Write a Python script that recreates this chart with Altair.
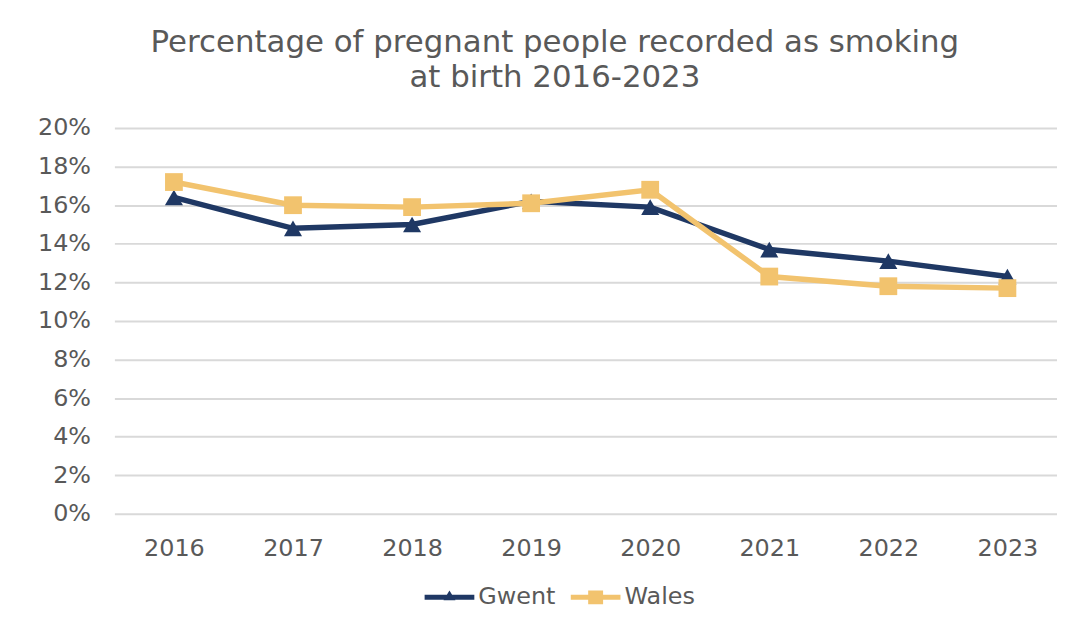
import altair as alt
import pandas as pd

years = ["2016", "2017", "2018", "2019", "2020", "2021", "2022", "2023"]
gwent = [16.4, 14.8, 15.0, 16.2, 15.9, 13.7, 13.1, 12.3]
wales = [17.2, 16.0, 15.9, 16.1, 16.8, 12.3, 11.8, 11.7]
series_names = ["Gwent", "Wales"]
y_ticks = [0, 2, 4, 6, 8, 10, 12, 14, 16, 18, 20]
title_lines = ["Percentage of pregnant people recorded as smoking", "at birth 2016-2023"]

colors = ["#1f3864", "#f2c36e"]
marker_shapes = ["triangle-up", "square"]
# legend symbols: a short line with the marker on it (unit coords, custom path)
legend_shapes = [
    "M-2.5,-0.25H2.5V0.25H-2.5Z M-0.6,0.3L0,-0.7L0.6,0.3Z",
    "M-2.5,-0.25H2.5V0.25H-2.5Z M-0.75,-0.7H0.75V0.7H-0.75Z",
]

FONT = "DejaVu Sans"
GREY = "#595959"

rows = []
for y, g, w in zip(years, gwent, wales):
    rows.append({"year": y, "series": "Gwent", "value": g})
    rows.append({"year": y, "series": "Wales", "value": w})
df = pd.DataFrame(rows)

W, H = 948, 388

x_enc = alt.X(
    "year:N",
    sort=years,
    scale=alt.Scale(type="point", padding=0.5, range=[0, 958]),
    axis=alt.Axis(
        title=None, labelAngle=0, domain=False, ticks=False, tickSize=0, grid=False,
        labelFontSize=24, labelColor=GREY, labelFont=FONT, labelPadding=23,
    ),
)
y_enc = alt.Y(
    "value:Q",
    scale=alt.Scale(domain=[0, 20], nice=False, zero=True),
    axis=alt.Axis(
        title=None, values=y_ticks, labelExpr="datum.value + '%'",
        domain=False, ticks=False, tickSize=0,
        grid=True, gridColor="#d9d9d9", gridWidth=2,
        labelFontSize=24, labelColor=GREY, labelFont=FONT, labelPadding=24,
    ),
)

layers = []
for name, col, shp, sz in zip(series_names, colors, marker_shapes, [330, 320]):
    sub = alt.Chart(df).transform_filter(alt.datum.series == name)
    layers.append(
        sub.mark_line(strokeWidth=5.5, color=col).encode(x=x_enc, y=y_enc)
    )
    layers.append(
        sub.mark_point(filled=True, opacity=1, size=sz, shape=shp, color=col).encode(x=x_enc, y=y_enc)
    )

legend = alt.Legend(
    title=None, orient="none", direction="horizontal",
    legendX=325, legendY=460,
    symbolSize=400, symbolOpacity=1, symbolStrokeWidth=0,
    labelFontSize=24, labelColor=GREY, labelFont=FONT,
    labelOffset=17, columnPadding=15, padding=0,
)
carrier = alt.Chart(df).mark_point(filled=True, opacity=0).encode(
    x=x_enc,
    y=y_enc,
    color=alt.Color("series:N", scale=alt.Scale(domain=series_names, range=colors), legend=legend),
    shape=alt.Shape("series:N", scale=alt.Scale(domain=series_names, range=legend_shapes), legend=legend),
)
layers.append(carrier)

chart = alt.layer(*layers).properties(
    width=W,
    height=H,
    title=alt.TitleParams(
        text=title_lines, fontSize=31, lineHeight=35, color=GREY, font=FONT,
        fontWeight="normal", anchor="middle", frame="group", dx=-31, offset=22,
    ),
    autosize=alt.AutoSizeParams(type="none"),
    padding={"left": 107, "top": 119, "right": 0, "bottom": 95},
    background="white",
).configure_view(stroke=None)

chart.save("out.html", embed_options={"renderer": "svg", "actions": False})
